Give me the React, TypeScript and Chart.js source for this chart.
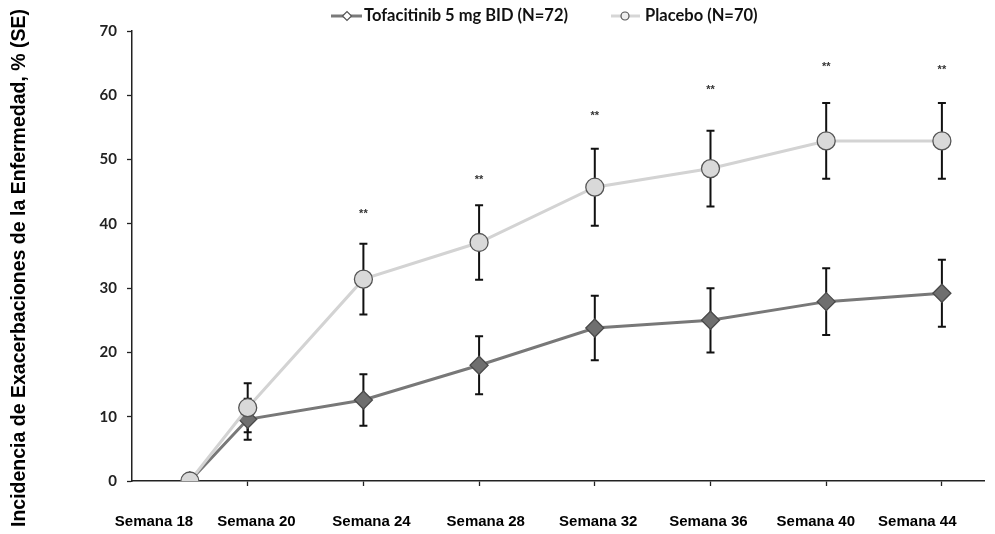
import React, { useEffect, useRef } from "react";
import { Chart, registerables } from "chart.js";

Chart.register(...registerables);

const weeks = [18, 20, 24, 28, 32, 36, 40, 44];
const tofaValues = [0, 9.6, 12.6, 18.0, 23.8, 25.0, 27.9, 29.2];
const tofaErrors = [0, 3.2, 4.0, 4.5, 5.0, 5.0, 5.2, 5.2];
const placeboValues = [0, 11.4, 31.4, 37.1, 45.7, 48.6, 52.9, 52.9];
const placeboErrors = [0, 3.8, 5.5, 5.8, 6.0, 5.9, 5.9, 5.9];
const starValues = [null, null, 41.6, 46.8, 56.8, 60.8, 64.4, 64.0];
const tickMarkWeeks = [20, 24, 28, 32, 36, 40, 44];
const labelWeeks = [16.76, 20.3, 24.28, 28.23, 32.12, 35.93, 39.64, 43.15];
const tickLabels = ["Semana 18", "Semana 20", "Semana 24", "Semana 28", "Semana 32", "Semana 36", "Semana 40", "Semana 44"];
const yTitle = "Incidencia de Exacerbaciones de la Enfermedad, % (SE)";
const tofaLabel = "Tofacitinib 5 mg BID (N=72)";
const placeboLabel = "Placebo (N=70)";

const extrasPlugin = {
  id: "extras",
  beforeDatasetsDraw(chart: any) {
    const { ctx, scales } = chart;
    const xs = scales.x;
    const ys = scales.y;
    ctx.save();
    ctx.strokeStyle = "#111";
    ctx.lineWidth = 2;
    const drawErr = (vals: number[], errs: number[]) => {
      vals.forEach((v, i) => {
        const e = errs[i];
        if (!e) return;
        const x = xs.getPixelForValue(weeks[i]);
        const y1 = ys.getPixelForValue(v + e);
        const y2 = ys.getPixelForValue(v - e);
        ctx.beginPath();
        ctx.moveTo(x, y1);
        ctx.lineTo(x, y2);
        ctx.moveTo(x - 4, y1);
        ctx.lineTo(x + 4, y1);
        ctx.moveTo(x - 4, y2);
        ctx.lineTo(x + 4, y2);
        ctx.stroke();
      });
    };
    drawErr(tofaValues, tofaErrors);
    drawErr(placeboValues, placeboErrors);
    ctx.restore();
  },
  afterDraw(chart: any) {
    const { ctx, scales } = chart;
    const xs = scales.x;
    const ys = scales.y;
    ctx.save();
    // stars
    ctx.fillStyle = "#333";
    ctx.font = "bold 11px 'Liberation Sans', Arial, sans-serif";
    ctx.textAlign = "center";
    ctx.textBaseline = "middle";
    starValues.forEach((s, i) => {
      if (s == null) return;
      ctx.fillText("**", xs.getPixelForValue(weeks[i]), ys.getPixelForValue(s));
    });
    // y title
    ctx.save();
    ctx.translate(20, 268);
    ctx.rotate(-Math.PI / 2);
    ctx.fillStyle = "#000";
    ctx.font = "bold 19.5px 'Liberation Sans', Arial, sans-serif";
    ctx.textAlign = "center";
    ctx.textBaseline = "middle";
    ctx.fillText(yTitle, 0, 0);
    ctx.restore();
    // legend
    const ly = 16;
    ctx.lineWidth = 3;
    ctx.strokeStyle = "#7a7a7a";
    ctx.beginPath();
    ctx.moveTo(331, ly);
    ctx.lineTo(362, ly);
    ctx.stroke();
    ctx.lineWidth = 1.2;
    ctx.fillStyle = "#fff";
    ctx.strokeStyle = "#555";
    ctx.beginPath();
    ctx.moveTo(347 - 4.5, ly);
    ctx.lineTo(347, ly - 4.5);
    ctx.lineTo(347 + 4.5, ly);
    ctx.lineTo(347, ly + 4.5);
    ctx.closePath();
    ctx.fill();
    ctx.stroke();
    ctx.lineWidth = 3;
    ctx.strokeStyle = "#d6d6d6";
    ctx.beginPath();
    ctx.moveTo(611, ly);
    ctx.lineTo(640, ly);
    ctx.stroke();
    ctx.lineWidth = 1.2;
    ctx.fillStyle = "#eee";
    ctx.strokeStyle = "#555";
    ctx.beginPath();
    ctx.arc(625, ly, 4, 0, Math.PI * 2);
    ctx.fill();
    ctx.stroke();
    ctx.fillStyle = "#111";
    ctx.font = "bold 16.5px Lato, 'Open Sans', sans-serif";
    ctx.textAlign = "left";
    ctx.textBaseline = "middle";
    ctx.fillText(tofaLabel, 364, ly);
    ctx.fillText(placeboLabel, 645, ly);
    ctx.restore();
  },
};

export default function App() {
  const ref = useRef<HTMLCanvasElement | null>(null);
  useEffect(() => {
    if (!ref.current) return;
    const chart = new Chart(ref.current, {
      type: "line",
      data: {
        datasets: [
          {
            label: placeboLabel,
            data: weeks.map((w, i) => ({ x: w, y: placeboValues[i] })),
            borderColor: "#d3d3d3",
            borderWidth: 3,
            pointStyle: "circle",
            pointRadius: 9,
            pointBackgroundColor: "#d9d9d9",
            pointBorderColor: "#555",
            pointBorderWidth: 1.3,
            tension: 0,
          },
          {
            label: tofaLabel,
            data: weeks.map((w, i) => ({ x: w, y: tofaValues[i] })),
            borderColor: "#787878",
            borderWidth: 3,
            pointStyle: "rectRot",
            pointRadius: 9,
            pointBackgroundColor: "#6f6f6f",
            pointBorderColor: "#4a4a4a",
            pointBorderWidth: 1.3,
            tension: 0,
          },
        ],
      },
      options: {
        animation: false,
        responsive: true,
        maintainAspectRatio: false,
        layout: { padding: { top: 31, right: 0, bottom: 0, left: 0 } },
        plugins: { legend: { display: false }, tooltip: { enabled: false } },
        scales: {
          x: {
            type: "linear",
            position: "bottom",
            weight: 0,
            min: 16,
            max: 45.48,
            afterBuildTicks: (scale: any) => {
              scale.ticks = tickMarkWeeks.map((v) => ({ value: v }));
            },
            afterFit: (scale: any) => {
              scale.height = 5;
              scale.paddingLeft = 0;
              scale.paddingRight = 0;
            },
            ticks: { display: false },
            grid: {
              drawOnChartArea: false,
              drawTicks: true,
              tickLength: 5,
              tickWidth: 1.3,
              tickColor: "#222",
            },
            border: { color: "#222", width: 1.5 },
          },
          x2: {
            type: "linear",
            position: "bottom",
            weight: 1,
            min: 16,
            max: 45.48,
            afterBuildTicks: (scale: any) => {
              scale.ticks = labelWeeks.map((v) => ({ value: v }));
            },
            afterFit: (scale: any) => {
              scale.height = 48;
              scale.paddingLeft = 0;
              scale.paddingRight = 0;
            },
            ticks: {
              autoSkip: false,
              maxRotation: 0,
              padding: 27,
              color: "#000",
              font: { family: "'Liberation Sans', Arial, sans-serif", size: 15, weight: "bold" },
              callback: (_v: any, i: number) => tickLabels[i],
            },
            grid: { display: false, drawTicks: false },
            border: { display: false },
          },
          y: {
            min: 0,
            max: 70,
            afterFit: (scale: any) => {
              scale.width = 132;
            },
            ticks: {
              stepSize: 10,
              padding: 10,
              color: "#222",
              font: { family: "Lato, sans-serif", size: 15, weight: "bold" },
            },
            grid: { drawOnChartArea: false, tickLength: 5, tickWidth: 1.3, tickColor: "#222" },
            border: { color: "#222", width: 1.5 },
          },
        },
      },
      plugins: [extrasPlugin],
    });
    return () => chart.destroy();
  }, []);
  return (
    <div style={{ position: "absolute", left: 0, top: 0, width: 995, height: 534, background: "#fff" }}>
      <canvas ref={ref} />
    </div>
  );
}
